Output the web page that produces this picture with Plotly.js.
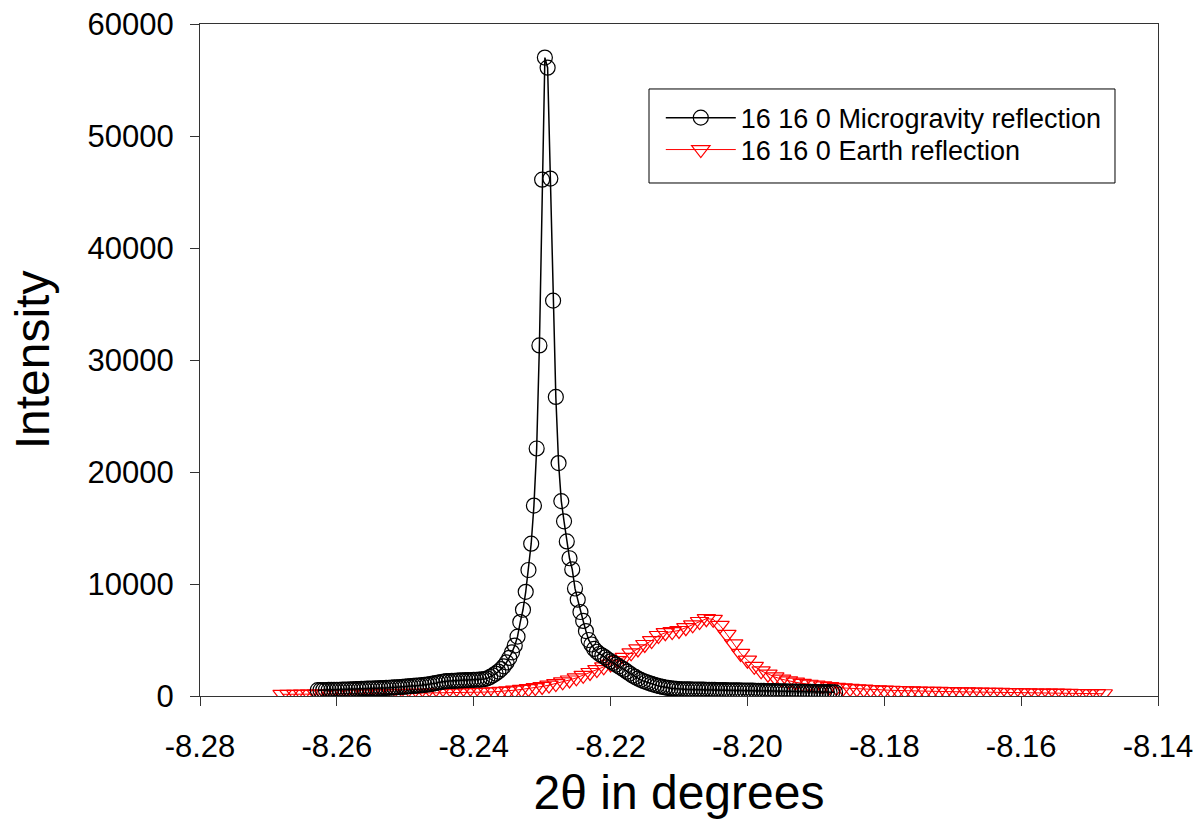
<!DOCTYPE html>
<html>
<head>
<meta charset="utf-8">
<script src="https://cdn.plot.ly/plotly-3.0.1.min.js"></script>
<style>html,body{margin:0;padding:0;background:#fff;}#chart{width:1199px;height:820px;}</style>
</head>
<body>
<div id="chart"></div>
<script>
// Microgravity reflection: 2theta (deg)
var microX = [
-8.2628,-8.2624,-8.2620,-8.2616,-8.2612,-8.2608,-8.2604,-8.2600,-8.2596,-8.2592,
-8.2588,-8.2584,-8.2580,-8.2576,-8.2572,-8.2568,-8.2564,-8.2560,-8.2556,-8.2552,
-8.2548,-8.2544,-8.2540,-8.2536,-8.2532,-8.2528,-8.2524,-8.2520,-8.2516,-8.2512,
-8.2508,-8.2504,-8.2500,-8.2496,-8.2492,-8.2488,-8.2484,-8.2480,-8.2476,-8.2472,
-8.2468,-8.2464,-8.2460,-8.2456,-8.2452,-8.2448,-8.2444,-8.2440,-8.2436,-8.2432,
-8.2428,-8.2424,-8.2420,-8.2416,-8.2412,-8.2408,-8.2404,-8.2400,-8.2396,-8.2392,
-8.2388,-8.2384,-8.2380,-8.2376,-8.2372,-8.2368,-8.2364,-8.2360,-8.2356,-8.2352,
-8.2348,-8.2344,-8.2340,-8.2336,-8.2332,-8.2328,-8.2324,-8.2320,-8.2316,-8.2312,
-8.2308,-8.2304,-8.2300,-8.2296,-8.2292,-8.2288,-8.2284,-8.2280,-8.2276,-8.2272,
-8.2268,-8.2264,-8.2260,-8.2256,-8.2252,-8.2248,-8.2244,-8.2240,-8.2236,-8.2232,
-8.2228,-8.2224,-8.2220,-8.2216,-8.2212,-8.2208,-8.2204,-8.2200,-8.2196,-8.2192,
-8.2188,-8.2184,-8.2180,-8.2176,-8.2172,-8.2168,-8.2164,-8.2160,-8.2156,-8.2152,
-8.2148,-8.2144,-8.2140,-8.2136,-8.2132,-8.2128,-8.2124,-8.2120,-8.2116,-8.2112,
-8.2108,-8.2104,-8.2100,-8.2096,-8.2092,-8.2088,-8.2084,-8.2080,-8.2076,-8.2072,
-8.2068,-8.2064,-8.2060,-8.2056,-8.2052,-8.2048,-8.2044,-8.2040,-8.2036,-8.2032,
-8.2028,-8.2024,-8.2020,-8.2016,-8.2012,-8.2008,-8.2004,-8.2000,-8.1996,-8.1992,
-8.1988,-8.1984,-8.1980,-8.1976,-8.1972,-8.1968,-8.1964,-8.1960,-8.1956,-8.1952,
-8.1948,-8.1944,-8.1940,-8.1936,-8.1932,-8.1928,-8.1924,-8.1920,-8.1916,-8.1912,
-8.1908,-8.1904,-8.1900,-8.1896,-8.1892,-8.1888,-8.1884,-8.1880,-8.1876,-8.1872
];
// Microgravity reflection: intensity
var microY = [
520,525,530,536,540,546,550,556,560,566,
571,580,590,598,611,620,628,641,650,662,
670,681,690,702,710,722,735,748,766,780,
801,818,842,858,881,899,921,938,966,992,
1021,1058,1102,1148,1199,1252,1288,1322,1338,1352,
1359,1372,1388,1401,1409,1421,1428,1442,1449,1461,
1480,1510,1580,1700,1840,2000,2180,2400,2650,3000,
3400,3900,4500,5300,6600,7700,9300,11250,13600,17000,
22100,31300,46100,57000,56100,46200,35300,26700,20800,17400,
15600,13800,12300,11300,9600,8600,7500,6700,5800,5000,
4600,4200,3950,3750,3600,3450,3250,3100,2950,2800,
2650,2500,2350,2170,2000,1830,1700,1560,1440,1340,
1250,1160,1080,1000,930,870,810,760,720,690,
660,630,610,600,595,589,586,579,576,569,
566,561,554,551,544,541,534,531,524,521,
514,511,504,501,494,491,484,481,474,471,
464,461,454,451,444,441,434,431,424,421,
414,411,404,401,394,391,384,381,376,372,
368,364,359,356,352,348,344,340,336,332
];
// Earth reflection: 2theta (deg)
var earthX = [
-8.268,-8.267,-8.266,-8.265,-8.264,-8.263,-8.262,-8.261,-8.260,-8.259,
-8.258,-8.257,-8.256,-8.255,-8.254,-8.253,-8.252,-8.251,-8.250,-8.249,
-8.248,-8.247,-8.246,-8.245,-8.244,-8.243,-8.242,-8.241,-8.240,-8.239,
-8.238,-8.237,-8.236,-8.235,-8.234,-8.233,-8.232,-8.231,-8.230,-8.229,
-8.228,-8.227,-8.226,-8.225,-8.224,-8.223,-8.222,-8.221,-8.220,-8.219,
-8.218,-8.217,-8.216,-8.215,-8.214,-8.213,-8.212,-8.211,-8.210,-8.209,
-8.208,-8.207,-8.206,-8.205,-8.204,-8.203,-8.202,-8.201,-8.200,-8.199,
-8.198,-8.197,-8.196,-8.195,-8.194,-8.193,-8.192,-8.191,-8.190,-8.189,
-8.188,-8.187,-8.186,-8.185,-8.184,-8.183,-8.182,-8.181,-8.180,-8.179,
-8.178,-8.177,-8.176,-8.175,-8.174,-8.173,-8.172,-8.171,-8.170,-8.169,
-8.168,-8.167,-8.166,-8.165,-8.164,-8.163,-8.162,-8.161,-8.160,-8.159,
-8.158,-8.157,-8.156,-8.155,-8.154,-8.153,-8.152,-8.151,-8.150,-8.149,
-8.148
];
// Earth reflection: intensity
var earthY = [
150,150,155,160,160,165,170,175,180,185,
190,195,200,205,210,215,220,225,230,240,
245,250,260,265,275,285,295,305,320,335,
355,380,410,450,520,590,660,750,850,970,
1110,1260,1430,1620,1850,2100,2360,2600,2850,3150,
3450,3850,4200,4600,4950,5400,5650,5750,5850,6100,
6350,6650,6900,6850,6300,5500,4650,3800,3200,2650,
2250,1950,1700,1500,1350,1230,1130,1050,980,900,
830,770,720,680,640,610,580,555,530,510,
490,470,455,440,425,415,405,395,385,375,
365,355,345,335,325,315,305,295,290,280,
270,265,255,250,240,235,225,220,210,205,
200
];
var seriesNames = ["16 16 0 Microgravity reflection", "16 16 0 Earth reflection"];
var xTickVals = [-8.28,-8.26,-8.24,-8.22,-8.20,-8.18,-8.16,-8.14];
var xTickText = ["-8.28","-8.26","-8.24","-8.22","-8.20","-8.18","-8.16","-8.14"];

var traces = [
  {x: earthX, y: earthY, name: seriesNames[1], type: 'scatter', mode: 'lines+markers', legend: 'legend2',
   line: {color: '#ff0000', width: 1},
   marker: {symbol: 'triangle-down-open', size: 16, color: '#ff0000', line: {color: '#ff0000', width: 1.2}}},
  {x: microX, y: microY, name: seriesNames[0], type: 'scatter', mode: 'lines+markers', legend: 'legend',
   line: {color: '#000000', width: 1.5},
   marker: {symbol: 'circle-open', size: 15, color: '#000000', line: {color: '#000000', width: 1.2}}}
];

var legendCommon = {xanchor: 'left', yanchor: 'middle', font: {size: 27, color: '#000'},
                    bgcolor: 'rgba(0,0,0,0)', borderwidth: 0, itemwidth: 70};

var layout = {
  width: 1199, height: 820,
  margin: {l: 200, r: 41, t: 24, b: 124},
  paper_bgcolor: '#ffffff', plot_bgcolor: '#ffffff',
  font: {family: 'Arial, "Liberation Sans", sans-serif', color: '#000'},
  showlegend: true,
  legend: Object.assign({x: 0.481, y: 0.860}, legendCommon),
  legend2: Object.assign({x: 0.481, y: 0.8125}, legendCommon),
  shapes: [{type: 'rect', xref: 'paper', yref: 'paper', x0: 0.4687, x1: 0.9551, y0: 0.7634, y1: 0.9033,
            line: {color: '#000', width: 1}, fillcolor: 'rgba(0,0,0,0)'}],
  xaxis: {range: [-8.28, -8.14], tickvals: xTickVals, ticktext: xTickText, ticks: 'outside', ticklen: 9,
          tickcolor: '#333', showline: true, mirror: true, linecolor: '#333', linewidth: 1,
          showgrid: false, zeroline: false, tickfont: {size: 31}, ticklabelstandoff: 14,
          title: {text: '2θ in degrees', font: {size: 48}, standoff: 12}},
  yaxis: {range: [0, 60000], dtick: 10000, ticks: 'outside', ticklen: 9, tickformat: 'd',
          tickcolor: '#333', showline: true, mirror: true, linecolor: '#333', linewidth: 1,
          showgrid: false, zeroline: false, tickfont: {size: 31}, ticklabelstandoff: 10,
          title: {text: 'Intensity', font: {size: 48}, standoff: 22}}
};
Plotly.newPlot('chart', traces, layout, {displayModeBar: false, staticPlot: true});
</script>
</body>
</html>
